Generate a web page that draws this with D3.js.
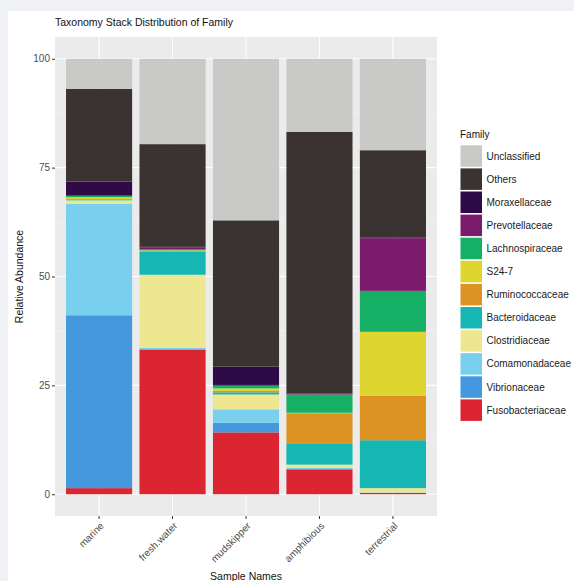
<!DOCTYPE html>
<html><head><meta charset="utf-8">
<script src="https://cdn.jsdelivr.net/npm/d3@7"></script>
<style>html,body{margin:0;padding:0;background:#eff1f4;}svg{display:block;font-family:"Liberation Sans",Arial,sans-serif;}</style>
</head><body>
<svg id="c" width="574" height="581"></svg>
<script>
const categories = ["marine", "fresh.water", "mudskipper", "amphibious", "terrestrial"];
// legend order (top to bottom)
const families = ["Unclassified","Others","Moraxellaceae","Prevotellaceae","Lachnospiraceae","S24-7","Ruminococcaceae","Bacteroidaceae","Clostridiaceae","Comamonadaceae","Vibrionaceae","Fusobacteriaceae"];
const colors = ["#c9cac8","#3b3332","#2e0b47","#7c1a6b","#15b065","#ded530","#dc9322","#15b6b3","#ede791","#78cfee","#4499de","#db2530"];
const Unclassified     = [6.9, 19.6, 37.1, 16.8, 21.0];
const Others           = [21.3, 23.6, 33.6, 60.1, 20.1];
const Moraxellaceae    = [3.1, 0.1, 4.2, 0.1, 0.1];
const Prevotellaceae   = [0.2, 0.5, 0.2, 0.1, 12.1];
const Lachnospiraceae  = [0.3, 0.2, 0.6, 4.2, 9.4];
const S24_7            = [0.4, 0.1, 0.6, 0.1, 14.7];
const Ruminococcaceae  = [0.1, 0.2, 0.3, 6.9, 10.2];
const Bacteroidaceae   = [0.2, 5.3, 0.5, 4.9, 11.0];
const Clostridiaceae   = [0.8, 16.8, 3.4, 0.7, 1.0];
const Comamonadaceae   = [25.6, 0.3, 3.1, 0.3, 0.1];
const Vibrionaceae     = [39.7, 0.1, 2.2, 0.1, 0.0];
const Fusobacteriaceae = [1.4, 33.2, 14.2, 5.7, 0.3];
const yTicks = [0, 25, 50, 75, 100];

const seriesVals = {"Unclassified":Unclassified,"Others":Others,"Moraxellaceae":Moraxellaceae,"Prevotellaceae":Prevotellaceae,"Lachnospiraceae":Lachnospiraceae,"S24-7":S24_7,"Ruminococcaceae":Ruminococcaceae,"Bacteroidaceae":Bacteroidaceae,"Clostridiaceae":Clostridiaceae,"Comamonadaceae":Comamonadaceae,"Vibrionaceae":Vibrionaceae,"Fusobacteriaceae":Fusobacteriaceae};
const table = categories.map((c,i)=>{const o={cat:c};families.forEach(f=>o[f]=seriesVals[f][i]);return o;});
const colorScale = d3.scaleOrdinal(families, colors);

const svg = d3.select("#c");
svg.append("rect").attr("x",0).attr("y",0).attr("width",574).attr("height",581).attr("fill","#eff1f4");
svg.append("rect").attr("x",8).attr("y",11).attr("width",566).attr("height",570).attr("fill","#ffffff");

const P = {l:55, r:437, t:37, b:516};
const x = d3.scaleBand().domain(categories).range([P.l, P.r]).paddingInner(0.1).paddingOuter(0.15);
const y = d3.scaleLinear().domain([-5, 105]).range([P.b, P.t]);

// panel
svg.append("rect").attr("x",P.l).attr("y",P.t).attr("width",P.r-P.l).attr("height",P.b-P.t).attr("fill","#ebebeb");
const g = svg.append("g");
// minor grid
[12.5,37.5,62.5,87.5].forEach(v=>g.append("line").attr("x1",P.l).attr("x2",P.r).attr("y1",y(v)).attr("y2",y(v)).attr("stroke","#f5f5f5").attr("stroke-width",0.6));
yTicks.forEach(v=>g.append("line").attr("x1",P.l).attr("x2",P.r).attr("y1",y(v)).attr("y2",y(v)).attr("stroke","#ffffff").attr("stroke-width",1.1));
categories.forEach(c=>g.append("line").attr("x1",x(c)+x.bandwidth()/2).attr("x2",x(c)+x.bandwidth()/2).attr("y1",P.t).attr("y2",P.b).attr("stroke","#ffffff").attr("stroke-width",1.1));

// bars
const stackKeys = families.slice().reverse();
const stacked = d3.stack().keys(stackKeys)(table);
svg.append("g").selectAll("g").data(stacked).join("g").attr("fill",d=>colorScale(d.key))
  .selectAll("rect").data(d=>d).join("rect")
  .attr("x",d=>x(d.data.cat)).attr("width",x.bandwidth())
  .attr("y",d=>y(d[1])).attr("height",d=>Math.max(0,y(d[0])-y(d[1])));

// y axis
const ya = svg.append("g").attr("transform",`translate(${P.l},0)`)
  .call(d3.axisLeft(y).tickValues(yTicks).tickSize(3).tickPadding(2));
ya.select(".domain").remove();
ya.selectAll(".tick line").attr("stroke","#333333");
ya.selectAll(".tick text").attr("fill","#4d4d4d").attr("font-size","10px");

// x axis
const xa = svg.append("g").attr("transform",`translate(0,${P.b})`)
  .call(d3.axisBottom(x).tickSize(3).tickFormat(""));
xa.select(".domain").remove();
xa.selectAll(".tick line").attr("stroke","#333333");
categories.forEach(c=>{
  const cx = x(c)+x.bandwidth()/2;
  svg.append("text").attr("transform",`translate(${cx+3},${P.b+8}) rotate(-45)`)
    .attr("text-anchor","end").attr("dy","0.35em").attr("font-size","10px").attr("fill","#4d4d4d").text(c);
});

// titles
svg.append("text").attr("x",55).attr("y",26).attr("font-size","10.5px").attr("fill","#111").text("Taxonomy Stack Distribution of Family");
svg.append("text").attr("transform",`translate(23,${(P.t+P.b)/2}) rotate(-90)`).attr("text-anchor","middle").attr("font-size","10.5px").attr("fill","#111").text("Relative Abundance");
svg.append("text").attr("x",(P.l+P.r)/2).attr("y",579.5).attr("text-anchor","middle").attr("font-size","10.5px").attr("fill","#111").text("Sample Names");

// legend
const lg = svg.append("g");
lg.append("text").attr("x",460).attr("y",137.5).attr("font-size","10px").attr("fill","#111").text("Family");
families.forEach((f,i)=>{
  const ky = 145.3 + i*23.1;
  lg.append("rect").attr("x",460.5).attr("y",ky).attr("width",21.5).attr("height",21.5).attr("fill",colorScale(f));
  lg.append("text").attr("x",486.5).attr("y",ky+10.75).attr("dy","0.35em").attr("font-size","10px").attr("fill","#1a1a1a").text(f);
});
</script>
</body></html>
